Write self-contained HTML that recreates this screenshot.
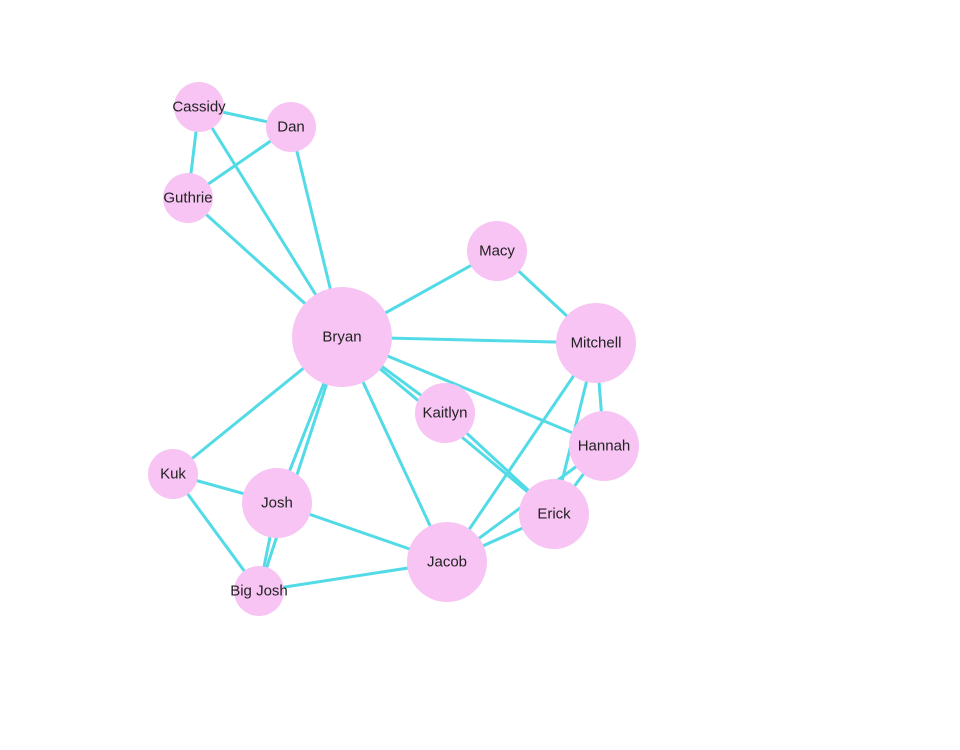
<!DOCTYPE html>
<html><head><style>body{margin:0;background:#fff}svg{display:block}text{font-family:"Liberation Sans",sans-serif;font-size:15px;fill:#222;text-anchor:middle;dominant-baseline:central}</style></head>
<body>
<svg width="960" height="750" viewBox="0 0 960 750">
<g stroke="#52dbe6" stroke-width="3" fill="none">
<line x1="199" y1="107" x2="291" y2="127"/>
<line x1="199" y1="107" x2="188" y2="198"/>
<line x1="291" y1="127" x2="188" y2="198"/>
<line x1="199" y1="107" x2="342" y2="337"/>
<line x1="291" y1="127" x2="342" y2="337"/>
<line x1="188" y1="198" x2="342" y2="337"/>
<line x1="342" y1="337" x2="497" y2="251"/>
<line x1="497" y1="251" x2="596" y2="343"/>
<line x1="342" y1="337" x2="596" y2="343"/>
<line x1="342" y1="337" x2="173" y2="474"/>
<line x1="342" y1="337" x2="277" y2="503"/>
<line x1="342" y1="337" x2="259" y2="591"/>
<line x1="342" y1="337" x2="447" y2="562"/>
<line x1="342" y1="337" x2="604" y2="446"/>
<line x1="342" y1="337" x2="445" y2="413"/>
<line x1="342" y1="337" x2="554" y2="514"/>
<line x1="445" y1="413" x2="554" y2="514"/>
<line x1="173" y1="474" x2="277" y2="503"/>
<line x1="173" y1="474" x2="259" y2="591"/>
<line x1="277" y1="503" x2="259" y2="591"/>
<line x1="277" y1="503" x2="447" y2="562"/>
<line x1="259" y1="591" x2="447" y2="562"/>
<line x1="596" y1="343" x2="447" y2="562"/>
<line x1="596" y1="343" x2="604" y2="446"/>
<line x1="596" y1="343" x2="554" y2="514"/>
<line x1="604" y1="446" x2="554" y2="514"/>
<line x1="604" y1="446" x2="447" y2="562"/>
<line x1="554" y1="514" x2="447" y2="562"/>
</g>
<g fill="#f7c4f4">
<circle cx="199" cy="107" r="25"/>
<circle cx="291" cy="127" r="25"/>
<circle cx="188" cy="198" r="25"/>
<circle cx="497" cy="251" r="30"/>
<circle cx="342" cy="337" r="50"/>
<circle cx="596" cy="343" r="40"/>
<circle cx="445" cy="413" r="30"/>
<circle cx="604" cy="446" r="35"/>
<circle cx="173" cy="474" r="25"/>
<circle cx="277" cy="503" r="35"/>
<circle cx="554" cy="514" r="35"/>
<circle cx="447" cy="562" r="40"/>
<circle cx="259" cy="591" r="25"/>
</g>
<text x="199" y="107">Cassidy</text>
<text x="291" y="127">Dan</text>
<text x="188" y="198">Guthrie</text>
<text x="497" y="251">Macy</text>
<text x="342" y="337">Bryan</text>
<text x="596" y="343">Mitchell</text>
<text x="445" y="413">Kaitlyn</text>
<text x="604" y="446">Hannah</text>
<text x="173" y="474">Kuk</text>
<text x="277" y="503">Josh</text>
<text x="554" y="514">Erick</text>
<text x="447" y="562">Jacob</text>
<text x="259" y="591">Big Josh</text>
</svg>
</body></html>
